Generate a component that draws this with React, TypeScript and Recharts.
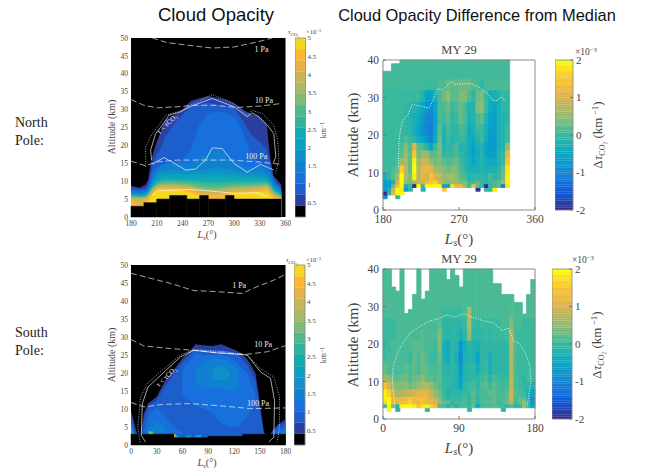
import React from 'react';
import { ComposedChart, Area, Line, XAxis, YAxis, ReferenceArea, ReferenceDot, CartesianGrid } from 'recharts';

type N = number | null;
const n = null;

// ---------- Panel A: North Pole cloud opacity (filled contours) ----------
const gridA = [180,190,197,200,203,206,210,215,220,230,240,250,260,270,280,290,300,310,320,330,338,342,346,350,355];
const a1 = [8.7,8.2,9,10.5,15,18,21,24,27,28.5,30,32.5,33.2,33.8,33.3,32.8,31.8,30,28.8,28,26,17,11.5,10.5,9];
const a2 = [8,7.8,8,9,12,15,17.5,19.5,22.5,26,28.5,31,31.5,32,31.5,31,30.5,27,23,21,19,15,11,9.5,8.5];
const a3 = [7.5,7.3,7.5,8.5,11,13,14,14.5,15,15.5,16,19,26,29,29.5,29,28,24,17,15,14,13,10.5,9,8];
const a4 = [7,6.8,7,8,9.5,11,13,14,14.5,15,15,15,16.5,18,19,18,15.5,14,14,14,13,11.5,9.5,8.5,7.5];
const a5 = [6.8,6.6,6.8,7.6,9,10.5,12,13,13,13,13,13,13,13.5,14,13.5,13,12.5,12.5,12.5,12,10.8,9,8,7];
const a6 = [6.5,6.3,6.5,7.3,8.6,9.8,11,12,12,12,12,12,12,12,12.5,12,12,11.5,11.5,11.5,11,10,8.6,7.6,6.7];
const a7 = [6.3,6.1,6.3,7,8.2,9.3,10.3,11,11,11,11,11,11,11,11,11,11,10.8,10.8,10.8,10.5,9.6,8.2,7.3,6.5];
const a8 = [6,5.9,6,6.8,7.8,8.8,9.8,10.3,10.4,10.4,10.3,10.2,10,9.8,9.8,9.8,10,10,10,10,10,9.2,7.8,7,6.2];
const a9 = [5.8,5.7,5.8,6.5,7.5,8.5,9.3,9.8,9.9,9.9,9.8,9.6,9.2,9,9,9,9.2,9.4,9.4,9.4,9.6,8.8,7.4,6.7,6];
const a10 = [5.6,5.5,5.6,6.2,7.2,8.2,9,9.3,9.4,9.4,9.3,9,8.5,8.2,8.2,8.4,8.7,8.8,8.8,9,9.2,8.4,7,6.4,5.8];
const a11 = [5.4,5.3,5.4,6,6.9,7.9,8.7,9,9,9,8.9,8.6,8,7.6,7.6,7.9,8.2,8.3,8.4,8.6,8.9,8,6.7,6.1,5.6];
const a12 = [5.2,5.1,5.2,5.8,6.6,7.6,8.4,8.7,8.7,8.7,8.6,8.2,7.5,7,7,7.4,7.8,7.9,8,8.2,8.5,7.6,6.4,5.8,5.4];
const a13 = [5,4,5,5.5,6.3,7.3,8.1,8.4,8.4,8.4,8.2,7.8,7,6.5,6.5,6.9,7.4,7.4,7.6,7.8,8.1,7.2,6,5.5,5.2];
const a14 = [4.7,3,4.5,5.2,6,7,7.8,8.1,8.1,8,7.8,7.3,6.5,6,6,6.5,7,7,7.2,7.4,7.7,6.8,5.7,5.2,5];
const a15 = [3,3,4,4.5,5.6,6.5,7.3,7.6,7.7,7.6,7.3,6.8,5.8,4.5,4.5,5.6,6.5,6.6,6.8,7,7.2,6.3,5.2,5,5];
const layersA = [a1,a2,a3,a4,a5,a6,a7,a8,a9,a10,a11,a12,a13,a14,a15];
const floorXA = [180,195,210,225,245,260,270,290,300,355];
const floorYA = [3,4,5,6,5,6,5,6,5];

const pa1 = [[204.8,50],[222,48.7],[245.6,48],[274.6,47.2],[299.9,47.5],[327,48.9],[344.5,50]];
const pa10 = [[180,32.8],[195,31.2],[210.6,30.5],[233.9,30.8],[253,31.2],[276.6,31.2],[303.7,30.6],[330.9,31],[355,31.7]];
const pa100 = [[180,15.6],[197,14.3],[210.6,15.4],[234,15.9],[265,15.9],[296,15.9],[327,15.4],[355,14.7]];
const tauA = [[204,15.9],[202.9,18.7],[208.7,23.3],[216.5,25.7],[224.2,28.4],[237.8,29.4],[249.4,30.9],[274.6,33.1],[299.9,30.8],[315.4,28],[321.2,29.1],[329,28],[338.6,25.7],[346.4,23.3],[348.7,16.8],[345.6,15]];
const outerA = [[197,14],[197,19.6],[204.8,23.3],[212.6,25.7],[220.3,28.4],[239.7,29.8],[253.3,31.7],[274.6,34.2],[299.9,31.7],[315.4,28.4],[321.2,29.8],[332.8,28.9],[346.4,25.7],[351,21.5],[352.2,15.9],[348.3,12.2]];
const wiggleA = [[204.8,14.8],[218.4,16.6],[226.2,15.6],[243.6,13.1],[255.3,13.4],[266.9,15.9],[274.6,19.3],[286.3,19.1],[299.9,15],[315.4,12.5],[330.9,14.7],[346.4,13.1]];
const lowA = [[204.8,6.1],[210.6,7.3],[249.4,7.7],[280.5,7.1],[299.9,6.6],[327,6.8],[338.6,5.7]];

// ---------- Panel C: South Pole cloud opacity ----------
const gridC = [0,3,6,9,12,15,20,30,40,50,60,70,75,85,95,105,115,125,135,145,150,155,160,165,170,175,180];
const c1 = [9.5,7,4,2,3.5,8.8,11.5,13.5,18,21,24,26.5,28,27.7,27.5,28,27,26,24,20,12,3.5,2,4,5.5,6.3,7.2];
const c2 = [8,5,3,2,2,7,10.5,12.5,16.5,19.5,23,25.5,26.5,26.3,26.3,26.3,26,25,22.5,18,10,2.5,2,3.5,5,5.5,6.2];
const c3 = [7,4,2,2,2,2,2,2,2,2,2,2,2,2,2,2,2,2,2,2,2,2,2,2,3.8,4.3,5];
const c4 = [6,3.5,2,2,2,2,2,2,2,2,2,2,2,2,2,2,2,2,2,2,2,2,2,2,2,3.4,4.3];
const c5 = [5.5,3];
const c6 = [5,2.6];
const c7 = [4.5,2.4];
const layersC: N[][] = [c1,c2,c3,c4,c5,c6,c7];
const blobK3: ([number,number]|null)[] = [n,n,n,n,n,n,n,n,n,n,[14,21],[12,24],[11,25.5],[10,25],[9,25],[6,25],[5,24.5],[5,22.5],[8,20],[12,14],n,n,n,n,n,n,n];
const blobK3Left: ([number,number]|null)[] = [n,n,n,n,n,[3,3.5],[3,8],[3,10.5],[3,8],[3,5],[3,3.5],n,n,n,n,n,n,n,n,n,n,n,n,n,n,n,n];
const blobK4: ([number,number]|null)[] = [n,n,n,n,n,n,n,n,n,n,n,n,[17,21],[16,23],[16,24],[15.5,24],[15,23],[16,21],n,n,n,n,n,n,n,n,n];
const blobK4Left: ([number,number]|null)[] = [n,n,n,n,n,n,[3,4.5],[3,6.5],[3,5],n,n,n,n,n,n,n,n,n,n,n,n,n,n,n,n,n,n];
const blobK5: ([number,number]|null)[] = [n,n,n,n,n,n,n,n,n,n,n,n,n,n,[18,21],[18,22],[18.5,20.5],n,n,n,n,n,n,n,n,n,n];
const floorXC = [0,50,90,130,180];
const floorYC = [3,2,2.4,3];
const spotX1 = [20,22,50,52,64,75];
const spotX2 = [26,25,52,55,70,82];
const spotY1 = [3,3,2,2,2,2];
const spotY2 = [3.8,3.4,3,2.6,2.6,2.8];
const spotLevel = [8,12,14,7,5,5];

const pc1 = [[0,47.7],[22.9,46.3],[46,44.9],[73,42.9],[100,42.6],[129.6,42.1],[147,44],[166.4,45.8],[180,47.4]];
const pc10 = [[0,29.3],[15,27.5],[46,26.8],[73,26.3],[100.5,25.6],[135.4,25.2],[158.6,25.9],[180,27.6]];
const pc100 = [[0,11.8],[15,10.6],[38.4,11.3],[69.4,11.5],[108.2,10.8],[139.3,10.1],[180,10.3]];
const tauC = [[17,0.8],[12,2.7],[13.2,11.5],[19.8,16.1],[30.6,18.5],[57.8,24.5],[73.3,26.3],[100.5,25.6],[135.4,25],[150.9,20.3],[162.5,18.5],[167.2,12.4],[166.4,2.2],[160.6,0.8]];
const outerC = [[10.5,0.8],[8,5],[11.2,13.4],[19,17.1],[36.5,20.8],[57.8,25],[73.3,26.5],[108,25.9],[135.4,25],[150.9,21.2],[166.4,18.9],[173,13.4],[173,5],[170.3,0.8]];

// ---------- Panel B: North Pole difference from median (x 1e-3) ----------
const bEdges = [3,4,5,6,7,8,10,12,14,16,18,20,23,26,29,32,35,37,39,40];
const bR0: N[] = [-.9,n,n,-.1,n,n,n,n,n,n,n,n,n,n,n,n,n,n,n,n,n,n,n,n,n,n,n,n,n,n];
const bR1: N[] = [-2,-.1,1.2,2,2,n,n,n,n,n,n,n,n,n,n,n,n,n,n,n,n,n,n,n,n,n,n,n,n,n];
const bR2: N[] = [-.8,-.3,.9,2,1.8,-.7,-.1,n,n,-.2,n,n,n,n,1.5,n,n,n,n,n,n,n,-1.9,n,-.1,-.1,1.9,n,n,n];
const bR3: N[] = [-.7,-.6,.3,1.4,2,-.4,0,-2,2,-.1,2,2,2,2,-.6,-.6,1.8,1.2,1.2,.5,0,1.4,.3,0,-2,0,.1,.2,-1.2,1.8];
const bR4: N[] = [-.7,-.6,-.3,1,2,.5,.4,.6,.8,1,1.3,1.5,1.6,.9,.6,.4,.5,.5,.4,.4,0,0,.3,-.1,-.1,0,.1,.2,.6,1.9];
const bR5: N[] = [-.3,-.1,.2,.6,2,.7,.4,1.9,.8,1.1,.9,1.4,1,.9,.5,.6,.6,.5,.2,.1,-.2,-.1,-.1,-.1,-.2,.1,-.1,0,.3,1.9];
const bR6: N[] = [.1,0,.1,.3,1.6,.8,.2,2,.7,1.2,1.2,1.1,.6,.5,.4,.3,.4,.4,.1,-.1,-.3,-.3,-.3,-.2,-.3,-.3,-.3,-.1,.2,1.8];
const bR7: N[] = [0,0,0,.1,.6,.7,.2,1.9,.6,.9,.9,.5,.3,.4,.2,.1,.2,.3,0,-.2,-.3,-.5,-.3,-.2,-.4,-.4,-.4,-.2,0,1.5];
const bR8: N[] = [0,0,0,0,.2,.5,.2,1.5,.3,.5,.5,.2,.2,.4,-.1,0,0,.1,-.1,-.2,-.4,-.6,-.4,-.2,-.5,-.6,-.6,-.2,-.1,1.2];
const bR9: N[] = [0,0,0,0,.1,.4,.1,1,.2,.1,-.2,-.5,0,.4,-.2,-.1,-.1,.1,-.2,-.2,-.4,-.6,-.3,-.2,-.5,-.7,-.7,-.3,-.2,.5];
const bR10: N[] = [0,0,0,0,0,.1,0,-.1,-.4,-.5,-.8,-1,-.4,.3,-.3,0,-.2,-.1,0,-.1,-.4,-.4,-.2,0,-.4,-.7,-.7,-.3,-.2,0];
const bR11: N[] = [0,0,0,0,0,-.1,-.1,-.3,-.5,-.8,-1,-1.1,-.5,.2,-.2,.1,-.1,-.1,.1,0,-.4,-.3,0,0,-.3,-.6,-.6,-.3,-.2,0];
const bR12: N[] = [0,0,0,0,0,-.1,-.2,-.3,-.4,-.7,-1,-1,-.6,.1,0,.2,-.1,0,.3,.1,-.3,-.2,.1,.2,-.2,-.5,-.6,-.3,-.2,-.1];
const bR13: N[] = [0,0,0,0,0,-.1,-.1,-.2,-.3,-.5,-.8,-.9,-.5,.1,.1,.3,0,.1,.3,.1,-.2,-.2,.4,.5,0,-.4,-.5,-.3,-.1,-.1];
const bR14: N[] = [0,0,0,0,0,0,0,0,0,-.2,-.6,-.6,-.3,.1,.3,.5,.2,.2,.4,.4,.1,-.1,.3,.4,0,-.3,-.3,-.2,0,-.1];
const bR15: N[] = [.05,.05,.05,.05,.05,.05,.05,.05,.05,.05,0,0,0,.1,.1,.3,.2,.2,.3,.3,.3,.1,.1,-.1,.1,.1,.1,.1,.1,.1];
const bR16: N[] = [.05,.05,.05,.05,.05,.05,.05,.05,.05,.05,.05,.05,.05,.05,.05,.05,.05,.05,.05,.05,.05,.05,.05,.05,.05,.05,.05,.05,.05,.05];
const bR17: N[] = [n,n,.05,.05,.05,.05,.05,.05,.05,.05,.05,.05,.05,.05,.05,.05,.05,.05,.05,.05,.05,.05,.05,.05,.05,.05,.05,.05,.05,.05];
const bR18: N[] = [n,n,n,n,.05,.05,.05,.05,.05,.05,.05,.05,.05,.05,.05,.05,.05,.05,.05,.05,.05,.05,.05,.05,.05,.05,.05,.05,.05,.05];
const bRows = [bR0,bR1,bR2,bR3,bR4,bR5,bR6,bR7,bR8,bR9,bR10,bR11,bR12,bR13,bR14,bR15,bR16,bR17,bR18];
const dotB = [[198.3,11.6],[198.3,14.3],[199,18.75],[201.8,22.8],[205.8,24.6],[209.8,25.4],[214.5,28.2],[223.7,27.7],[234.8,27.2],[239.5,29.5],[244.7,32.3],[251.4,32.1],[260.6,34.2],[265.3,33.5],[283.2,33.7],[293,32.9],[303,31.25],[310,29.2],[315,29.2],[320,30.2],[325,29]];

// ---------- Panel D: South Pole difference from median (x 1e-3) ----------
const dEdges = [2,3,4,5,6,8,10,12,15,18,21,24,27,30,40];
const dTop = [40,40,35.2,34.1,40,28.1,29.2,33.2,40,32,34.1,40,40,40,40,37.2,40,38.3,35.2,40,40,40,40,40,40,40,36.1,36.1,33.2,33.2,33.2,31.1,31.1,28,33.2,37.2];
const dR0: N[] = [n,2,n,-.1,n,n,n,n,n,n,-.1,n,n,n,n,n,n,n,n,n,-.1,n,n,n,n,n,n,n,-.1,n,n,n,n,n,n,n];
const dR1: N[] = [-.1,2,.3,-.2,1.9,2,2,1.9,1.5,1.8,1.9,1.6,1.3,.1,.1,-.2,.1,-.2,.1,.1,0,.3,-.5,0,.1,.1,.2,.1,.1,-.1,.1,-.1,-.1,.6,-.1,-.5];
const dR2: N[] = [1.7,2,1.1,1.1,1.3,1.4,1.6,1.3,1.2,1.4,1.2,1.1,1,.5,.3,.2,-.1,.1,.1,.1,-.1,.2,-.1,.1,.2,.2,.2,0,.1,.3,.7,0,.3,.6,0,-.7];
const dR3: N[] = [1.9,2,1.2,1.2,1.2,1.3,1.5,1.3,1.4,1.4,1.2,1,.8,.5,.1,-.1,0,-.1,0,.1,-.1,.2,-.1,.1,.1,.1,.2,.1,.1,.3,.9,.1,.2,.2,-.2,-.8];
const dR4: N[] = [1.9,1.6,.9,.6,.7,.8,.8,1,1.1,1.2,1.1,.8,.5,.3,0,-.2,-.1,-.1,-.1,0,0,.2,0,.1,.1,.2,.2,.1,.1,.2,.9,.2,.1,0,-.3,-.6];
const dR5: N[] = [1.4,.9,.5,.4,.4,.5,.3,.4,.5,.7,.7,.5,.3,.2,0,-.1,-.2,-.2,-.5,-.1,0,.1,-.1,.1,.2,0,.2,.1,0,.1,.8,.1,0,-.1,-.1,-.3];
const dR6: N[] = [.6,.4,.3,.2,.3,.3,.1,.3,.3,.5,.2,.2,.1,.2,-.1,-.1,-.1,-.2,-.5,-.2,-.1,-.1,-.1,0,.1,-.1,.1,0,0,0,.8,.1,0,-.1,.1,0];
const dR7: N[] = [.3,.1,.1,.1,.1,.2,.1,.2,.1,.3,.2,.1,.1,.2,-.1,-.2,-.1,-.2,-.7,-.2,-.1,-.1,-.3,-.1,0,-.3,-.1,-.1,-.1,-.1,.7,.1,0,0,0,0];
const dR8: N[] = [0,.1,.1,.1,.1,.1,0,.2,.1,.3,.1,0,0,.3,-.3,-.4,-.1,-.3,-.9,-.3,-.2,-.2,-.5,-.1,-.1,-.3,-.1,-.1,-.1,-.1,.7,.1,0,0,0,0];
const dR9: N[] = [0,0,.1,.1,.1,.1,.1,.2,.2,.2,.1,.1,0,.4,-.3,-.4,-.1,-.2,-.7,-.3,-.1,-.2,-.3,-.1,-.1,-.1,-.1,-.1,-.1,-.1,.8,.1,0,0,0,0];
const dR10: N[] = [0,0,0,.1,.1,.1,.1,.1,.1,.2,.1,.1,.1,.4,-.1,-.2,-.1,-.1,-.3,-.1,.5,-.1,-.1,-.1,0,-.1,0,0,0,.1,.7,.1,0,0,0,0];
const dR11: N[] = [0,0,0,.1,.1,.1,.1,.1,.1,.1,.1,.1,.1,.2,-.1,-.1,-.1,-.1,-.1,0,.7,0,-.1,0,0,0,0,0,.1,.1,.4,.1,.1,0,0,0];
const dR12: N[] = [.1,.1,.1,.1,.1,.1,.1,.1,.1,.1,.1,.1,.1,.1,0,0,0,0,0,.1,.7,.1,.1,.1,.1,.1,.1,.1,.1,.1,.2,.1,.1,.1,.1,.1];
const dR13: N[] = [.1,.1,.1,.1,.1,.1,.1,.1,.1,.1,.1,.1,.1,.1,.1,.1,.1,.1,.1,.1,.1,.1,.1,.1,.1,.1,.1,.1,.1,.1,.1,.1,.1,.1,.1,.1];
const dRows = [dR0,dR1,dR2,dR3,dR4,dR5,dR6,dR7,dR8,dR9,dR10,dR11,dR12,dR13];
const dotD = [[13.9,3.3],[11,9.55],[12,14],[17.9,18],[23.8,20.3],[31.7,22.9],[43.7,24.7],[53.6,26],[65.5,26.7],[75.4,27.8],[85.3,27.2],[95.2,28.1],[105,27.2],[119,26.2],[131,25.6],[140.9,23.6],[148.8,24.3],[154.8,20.7],[160.7,20.3],[168.7,17.6],[173.8,14],[175.4,10.4],[170.6,3.3]];

// ---------- tick labels ----------
const ticksX180 = [180,210,240,270,300,330,360];
const ticksX0 = [0,30,60,90,120,150,180];
const ticksAlt50 = [0,5,10,15,20,25,30,35,40,45,50];
const ticksAlt40 = [0,10,20,30,40];
const ticksOpacity = [.5,1,1.5,2,2.5,3,3.5,4,4.5,5];
const ticksDiff = [-2,-1,0,1,2];
const opacityEdges = [.1,.406,.712,1.019,1.325,1.631,1.938,2.244,2.55,2.856,3.163,3.469,3.775,4.081,4.388,4.694,5];

// ---------- styling ----------
const LEVELS = ['#2a3f9e','#1b5ecc','#1770dc','#1080d0','#1090c8','#0aa0c0','#10aab0','#30b4a0','#50b88a','#80bb78','#a8ba68','#c8b45a','#e8b048','#fdb830','#f2d820','#f8f40c'];
const PARULA = ['#352a87','#0f5cdd','#1485d4','#06a7c6','#38b99e','#8fbd72','#dcb24c','#fbc432','#f9fb0e'];
const SERIF = '"Liberation Serif", serif';
const SANS = '"Liberation Sans", sans-serif';
const GREY = '#444';

function hex(c: string) { return [1,3,5].map(i => parseInt(c.slice(i,i+2),16)); }
function parula(v: number) {
  const t = Math.max(0, Math.min(7.999, (v + 2) * 2));
  const k = Math.floor(t), f = t - k;
  const a = hex(PARULA[k]), b = hex(PARULA[k+1]);
  return `rgb(${a.map((x,i)=>Math.round(x+(b[i]-x)*f)).join(',')})`;
}
const pts = (a: number[][]) => a.map(([x,y]) => ({ x, y }));

const PA = { x:130.5, y:38, w:154.5, h:179 };
const PC = { x:130.5, y:265, w:154.5, h:180 };
const PB = { x:383, y:60, w:152, h:150 };
const PD = { x:383, y:269, w:152, h:150 };

function box(p: any, yw: number, xh: number, right = 6) {
  return {
    style: { position:'absolute', left:p.x-yw, top:p.y-6 } as React.CSSProperties,
    width: p.w+yw+right, height: p.h+6+xh,
    margin: { top:6, right, left:0, bottom:0 },
  };
}

const whiteLine = (data: number[][], key: string, dash?: string, w = 0.8, op = 0.8) => (
  <Line key={key} data={pts(data)} dataKey="y" stroke="#fff" strokeOpacity={op} strokeWidth={w} strokeDasharray={dash} dot={false} activeDot={false} isAnimationActive={false} type="linear" />
);
const DASH = '6 3';
const DOT = '1 1.5';

const frame = (x1: number, x2: number, y2: number) => (
  <ReferenceArea x1={x1} x2={x2} y1={0} y2={y2} fill="none" stroke="#8a8a8a" strokeWidth={1} fillOpacity={0} />
);

const inLabel = (x: number, y: number, text: string, angle = 0, size = 8) => (
  <ReferenceDot key={text} x={x} y={y} r={0} fill="none" stroke="none"
    label={{ value: text, fill:'#e8e8e8', fontSize:size, fontFamily:SERIF, angle, position:'center' }} />
);

function OpacityPanel({ p, xDomain, xTicks, table, nLayers, floorX, floorY, children }: any) {
  const b = box(p, 40, 28);
  return (
    <ComposedChart {...b} data={table}>
      <CartesianGrid horizontal={false} vertical={false} fill="#000" />
      <XAxis dataKey="x" type="number" domain={xDomain} ticks={xTicks} interval={0} height={28} axisLine={false} tickSize={0} tickMargin={4} tick={{ fontSize:7.5, fill:GREY, fontFamily:SERIF }} allowDataOverflow />
      <YAxis type="number" domain={[0,50]} ticks={ticksAlt50} interval={0} width={40} axisLine={false} tickSize={0} tickMargin={3} tick={{ fontSize:7.5, fill:GREY, fontFamily:SERIF }} allowDataOverflow />
      {Array.from({ length:nLayers }, (_,i) => (
        <Area key={i} dataKey={`l${i}`} type="linear" stroke="none" fill={LEVELS[i]} fillOpacity={1} isAnimationActive={false} dot={false} activeDot={false} />
      ))}
      {children}
      {floorY.map((h: number, i: number) => (
        <ReferenceArea key={`f${i}`} x1={floorX[i]} x2={floorX[i+1]} y1={0} y2={h} fill="#000" fillOpacity={1} stroke="#000" strokeWidth={0.5} />
      ))}
    </ComposedChart>
  );
}

const tableA = gridA.map((x,i) => {
  const row: any = { x };
  layersA.forEach((l,k) => { row[`l${k}`] = l[i]; });
  return row;
});
const tableC = gridC.map((x,i) => {
  const row: any = { x };
  layersC.forEach((l,k) => { row[`l${k}`] = l[i] ?? null; });
  row.b3 = blobK3[i]; row.b3l = blobK3Left[i]; row.b4 = blobK4[i]; row.b4l = blobK4Left[i]; row.b5 = blobK5[i];
  return row;
});

const blob = (key: string, lev: number) => (
  <Area key={key} dataKey={key} type="linear" stroke="none" fill={LEVELS[lev]} fillOpacity={1} isAnimationActive={false} dot={false} activeDot={false} />
);

function heatCells(rows: N[][], edges: number[], x0: number, tops?: number[]) {
  const out: any[] = [];
  rows.forEach((row, r) => row.forEach((v, i) => {
    if (v === null || v === undefined) return;
    const y1 = edges[r];
    const y2 = tops ? Math.min(edges[r+1], tops[i]) : edges[r+1];
    if (y2 <= y1) return;
    const c = parula(v);
    out.push(<ReferenceArea key={`${r}-${i}`} x1={x0+5*i} x2={x0+5*(i+1)} y1={y1} y2={y2} fill={c} fillOpacity={1} stroke={c} strokeWidth={0.8} />);
  }));
  return out;
}

function HeatPanel({ p, xDomain, xTicks, cells, dots }: any) {
  const b = box(p, 43, 26, 14);
  return (
    <ComposedChart {...b}>
      <XAxis dataKey="x" type="number" domain={xDomain} ticks={xTicks} interval={0} height={26} axisLine={false} tickSize={-3} tickLine={{ stroke:'#777' }} tickMargin={8} tick={{ fontSize:11.5, fill:GREY, fontFamily:SERIF }} allowDataOverflow />
      <YAxis type="number" domain={[0,40]} ticks={ticksAlt40} interval={0} width={43} axisLine={false} tickSize={-3} tickLine={{ stroke:'#777' }} tickMargin={7} tick={{ fontSize:11.5, fill:GREY, fontFamily:SERIF }} allowDataOverflow />
      {cells}
      {whiteLine(dots, 'dots', DOT, 0.9, 0.95)}
      {frame(xDomain[0], xDomain[1], 40)}
    </ComposedChart>
  );
}

function ColorBar({ x, y, w, h, bands, domain, ticks, fontSize, width, tickLine }: any) {
  return (
    <ComposedChart width={w+width} height={h+12} margin={{ top:6, right:0, left:0, bottom:6 }} style={{ position:'absolute', left:x, top:y-6 }}>
      <XAxis dataKey="x" type="number" domain={[0,1]} height={0} tick={false} axisLine={false} tickLine={false} allowDataOverflow />
      <YAxis orientation="right" type="number" domain={domain} ticks={ticks} interval={0} width={width} axisLine={false} tickSize={tickLine ? -3 : 0} tickLine={{ stroke:'#777' }} tickMargin={tickLine ? 6 : 2} tick={{ fontSize, fill:GREY, fontFamily:SERIF }} allowDataOverflow />
      {bands.map((b: any, i: number) => (
        <ReferenceArea key={i} x1={0} x2={1} y1={b[0]} y2={b[1]} fill={b[2]} fillOpacity={1} stroke={b[2]} strokeWidth={0.2} ifOverflow="visible" />
      ))}
      <ReferenceArea x1={0} x2={1} y1={domain[0]} y2={domain[1]} fill="none" fillOpacity={0} stroke="#8a8a8a" strokeWidth={0.8} ifOverflow="visible" />
    </ComposedChart>
  );
}

const opacityBands = opacityEdges.slice(0,-1).map((e,i) => [e, opacityEdges[i+1], i===0 ? '#000' : LEVELS[i-1]]);
const diffBands = Array.from({ length:64 }, (_,i) => { const a = -2+4*i/64; return [a, a+4/64, parula(a+2/64)]; });

const LsText = ({ x, y, size }: any) => (
  <text x={x} y={y} textAnchor="middle" fontFamily={SERIF} fontSize={size} fill={GREY}>
    <tspan fontStyle="italic">L</tspan><tspan fontStyle="italic" fontSize={size*0.7} dy={size*0.15}>s</tspan><tspan dy={-size*0.15}>(°)</tspan>
  </text>
);
const Rot = ({ x, y, size, children, angle = -90 }: any) => (
  <text transform={`translate(${x},${y}) rotate(${angle})`} textAnchor="middle" fontFamily={SERIF} fontSize={size} fill={GREY}>{children}</text>
);
const DeltaTau = ({ x, y }: any) => (
  <Rot x={x} y={y} size={13}>Δ<tspan fontStyle="italic">τ</tspan><tspan fontSize={8} dy={3}>CO₂</tspan><tspan dy={-3}>  (km</tspan><tspan fontSize={9} dy={-4}> −1</tspan><tspan dy={4}>)</tspan></Rot>
);
const TauTop = ({ x, y }: any) => (
  <text x={x} y={y} fontFamily={SERIF} fontSize={7} fill={GREY}><tspan fontStyle="italic">τ</tspan><tspan fontSize={5} dy={1.5}>CO₂</tspan></text>
);
const Exp = ({ x, y, size }: any) => (
  <text x={x} y={y} fontFamily={SERIF} fontSize={size} fill={GREY}>×10<tspan fontSize={size*0.7} dy={-size*0.35}>−3</tspan></text>
);

export default function App() {
  return (
    <div style={{ position:'fixed', left:0, top:0, width:649, height:469, background:'#fff', overflow:'hidden' }}>
      <OpacityPanel p={PA} xDomain={[180,360]} xTicks={ticksX180} table={tableA} nLayers={15} floorX={floorXA} floorY={floorYA}>
        {whiteLine(pa1,'pa1',DASH)}
        {whiteLine(pa10,'pa10',DASH)}
        {whiteLine(pa100,'pa100',DASH)}
        {whiteLine(tauA,'tauA')}
        {whiteLine(outerA,'outerA',DOT)}
        {whiteLine(wiggleA,'wiggleA')}
        {whiteLine(lowA,'lowA')}
        {inLabel(332,46.8,'1 Pa')}
        {inLabel(335,32.5,'10 Pa')}
        {inLabel(326,17,'100 Pa')}
        {inLabel(222,26,'τ < τCO₂',-45,7)}
      </OpacityPanel>
      <OpacityPanel p={PC} xDomain={[0,180]} xTicks={ticksX0} table={tableC} nLayers={7} floorX={floorXC} floorY={floorYC}>
        {blob('b3',2)}
        {blob('b3l',2)}
        {blob('b4',3)}
        {blob('b4l',3)}
        {blob('b5',4)}
        {spotY1.map((y,i) => (
          <ReferenceArea key={`s${i}`} x1={spotX1[i]} x2={spotX2[i]} y1={y} y2={spotY2[i]} fill={LEVELS[spotLevel[i]]} fillOpacity={1} stroke="none" />
        ))}
        {whiteLine(pc1,'pc1',DASH)}
        {whiteLine(pc10,'pc10',DASH)}
        {whiteLine(pc100,'pc100',DASH)}
        {whiteLine(tauC,'tauC')}
        {whiteLine(outerC,'outerC',DOT)}
        {inLabel(126,44.5,'1 Pa')}
        {inLabel(154,28,'10 Pa')}
        {inLabel(148,11.5,'100 Pa')}
        {inLabel(41,19,'τ < τCO₂',-45,7)}
      </OpacityPanel>
      <HeatPanel p={PB} xDomain={[180,360]} xTicks={[180,270,360]} cells={heatCells(bRows,bEdges,180)} dots={dotB} />
      <HeatPanel p={PD} xDomain={[0,180]} xTicks={[0,90,180]} cells={heatCells(dRows,dEdges,0,dTop)} dots={dotD} />

      <ColorBar x={295} y={38} w={10.5} h={179} bands={opacityBands} domain={[.1,5]} ticks={ticksOpacity} fontSize={7} width={16} />
      <ColorBar x={294} y={265} w={11} h={180} bands={opacityBands} domain={[.1,5]} ticks={ticksOpacity} fontSize={7} width={16} />
      <ColorBar x={555} y={60} w={18} h={150} bands={diffBands} domain={[-2,2]} ticks={ticksDiff} fontSize={11} width={20} tickLine />
      <ColorBar x={552} y={269} w={20} h={150} bands={diffBands} domain={[-2,2]} ticks={ticksDiff} fontSize={11} width={20} tickLine />

      <svg width={649} height={469} style={{ position:'absolute', left:0, top:0, pointerEvents:'none' }}>
        <text x={216} y={21} textAnchor="middle" fontFamily={SANS} fontSize={18.5} fill="#111">Cloud Opacity</text>
        <text x={477} y={21} textAnchor="middle" fontFamily={SANS} fontSize={16.4} fill="#111">Cloud Opacity Difference from Median</text>
        <text x={15} y={127} fontFamily={SERIF} fontSize={14} fill="#222">North</text>
        <text x={15} y={145} fontFamily={SERIF} fontSize={14} fill="#222">Pole:</text>
        <text x={15} y={337} fontFamily={SERIF} fontSize={14} fill="#222">South</text>
        <text x={15} y={355} fontFamily={SERIF} fontSize={14} fill="#222">Pole:</text>
        <text x={459} y={54} textAnchor="middle" fontFamily={SERIF} fontSize={12.5} fill={GREY}>MY 29</text>
        <text x={459} y={263} textAnchor="middle" fontFamily={SERIF} fontSize={12.5} fill={GREY}>MY 29</text>
        <Rot x={115} y={127} size={10}>Altitude (km)</Rot>
        <Rot x={115} y={355} size={10}>Altitude (km)</Rot>
        <Rot x={358} y={135} size={15.5}>Altitude (km)</Rot>
        <Rot x={358} y={345} size={15.5}>Altitude (km)</Rot>
        <LsText x={207} y={238} size={10} />
        <LsText x={207} y={466} size={10} />
        <LsText x={459} y={244} size={15} />
        <LsText x={459} y={453} size={15} />
        <DeltaTau x={602} y={135} />
        <DeltaTau x={601} y={345} />
        <Rot x={326} y={130} size={8}>km<tspan fontSize={6} dy={-2.5}>−1</tspan></Rot>
        <Rot x={326} y={355} size={8}>km<tspan fontSize={6} dy={-2.5}>−1</tspan></Rot>
        <TauTop x={288} y={34} />
        <TauTop x={286} y={262} />
        <Exp x={306} y={34} size={6.5} />
        <Exp x={306} y={262} size={6.5} />
        <Exp x={575} y={55} size={9.5} />
        <Exp x={572} y={263} size={9.5} />
      </svg>
    </div>
  );
}
